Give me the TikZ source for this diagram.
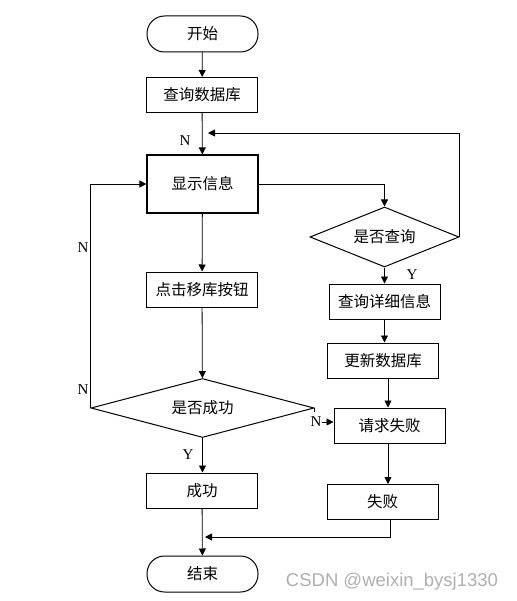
\documentclass[tikz,border=0pt]{standalone}
\usepackage{fontspec}
\setmainfont{Liberation Serif}
\newfontfamily\cjk{Noto Sans CJK SC}
\newfontfamily\wmfont{Liberation Sans}
\usetikzlibrary{arrows.meta,shapes.geometric}
\definecolor{wmgray}{RGB}{175,175,175}
\begin{document}
\begin{tikzpicture}[x=1pt,y=-1pt,
  box/.style={draw,line width=1pt,minimum width=111pt,minimum height=35pt,inner sep=0pt,font=\cjk\fontsize{15.5}{15.5}\selectfont},
  term/.style={box,rounded corners=17.5pt,minimum height=36pt},
  dec/.style={draw,diamond,aspect=2.5,inner sep=0pt,line width=1pt,font=\cjk\fontsize{15.5}{15.5}\selectfont},
  arr/.style={line width=0.8pt,-{Triangle[length=7pt,width=7pt]}},
  lab/.style={font=\fontsize{15}{15}\selectfont,inner sep=0pt}]
\useasboundingbox (0,0) rectangle (516,601);
% nodes
\node[term] (start) at (202.5,34) {开始};
\node[box] (qdb) at (202,95) {查询数据库};
\node[box,minimum height=58pt,line width=1.15pt] (show) at (202.5,184) {显示信息};
\node[dec,minimum width=149pt,minimum height=60pt] (d1) at (384.5,237) {是否查询};
\node[box] (click) at (202,289.5) {点击移库按钮};
\node[box] (detail) at (384.5,301.5) {查询详细信息};
\node[box] (update) at (383,360.5) {更新数据库};
\node[dec,minimum width=223pt,minimum height=59pt] (d2) at (202.5,408) {是否成功};
\node[box] (req) at (389.5,425.5) {请求失败};
\node[box] (succ) at (202,490.5) {成功};
\node[box] (fail) at (382.5,502) {失败};
\node[term] (end) at (202.5,574) {结束};
% labels
\node[lab] (n1) at (185,141) {N};
\node[lab] (y1) at (412,275) {Y};
\node[lab] (n2) at (83,248) {N};
\node[lab] (n3) at (83,390) {N};
\node[lab] (n4) at (316,422) {N};
\node[lab] (y2) at (188,455) {Y};
\node[font=\wmfont\fontsize{18.5}{18.5}\selectfont,text=wmgray,inner sep=0pt] (wm) at (392,582) {CSDN @weixin\_bysj1330};
% coordinates
\coordinate (fb) at (208,133);
\coordinate (mg) at (205,537);
\coordinate (rc) at (388,0);
\coordinate (fo) at ([xshift=7.5pt]fail.south);
% connectors
\draw[arr] (start) -- (qdb);
\draw[arr] (qdb) -- (show);
\draw[arr] (show.east) -| (d1.north);
\draw[arr] (d1.east) |- (fb);
\draw[arr] (d1.south) -- (detail.north -| d1.south);
\draw[arr] (detail.south -| d1.south) -- (update.north -| d1.south);
\draw[arr] (update.south -| rc) -- (req.north -| rc);
\draw[arr] (show) -- (click);
\draw[arr] (click) -- (d2);
\draw[arr] (d2.west) |- (show.west);
\draw[arr] (d2.south) -- (succ.north -| d2.south);
\draw[line width=0.8pt] (d2.east) -- ++(0,4);
\draw[arr] (n4.east) -- (n4.east -| req.west);
\draw[arr] (req.south -| rc) -- (fail.north -| rc);
\draw[arr] (fo) |- (mg);
\draw[arr] (succ) -- (end);
\end{tikzpicture}
\end{document}
